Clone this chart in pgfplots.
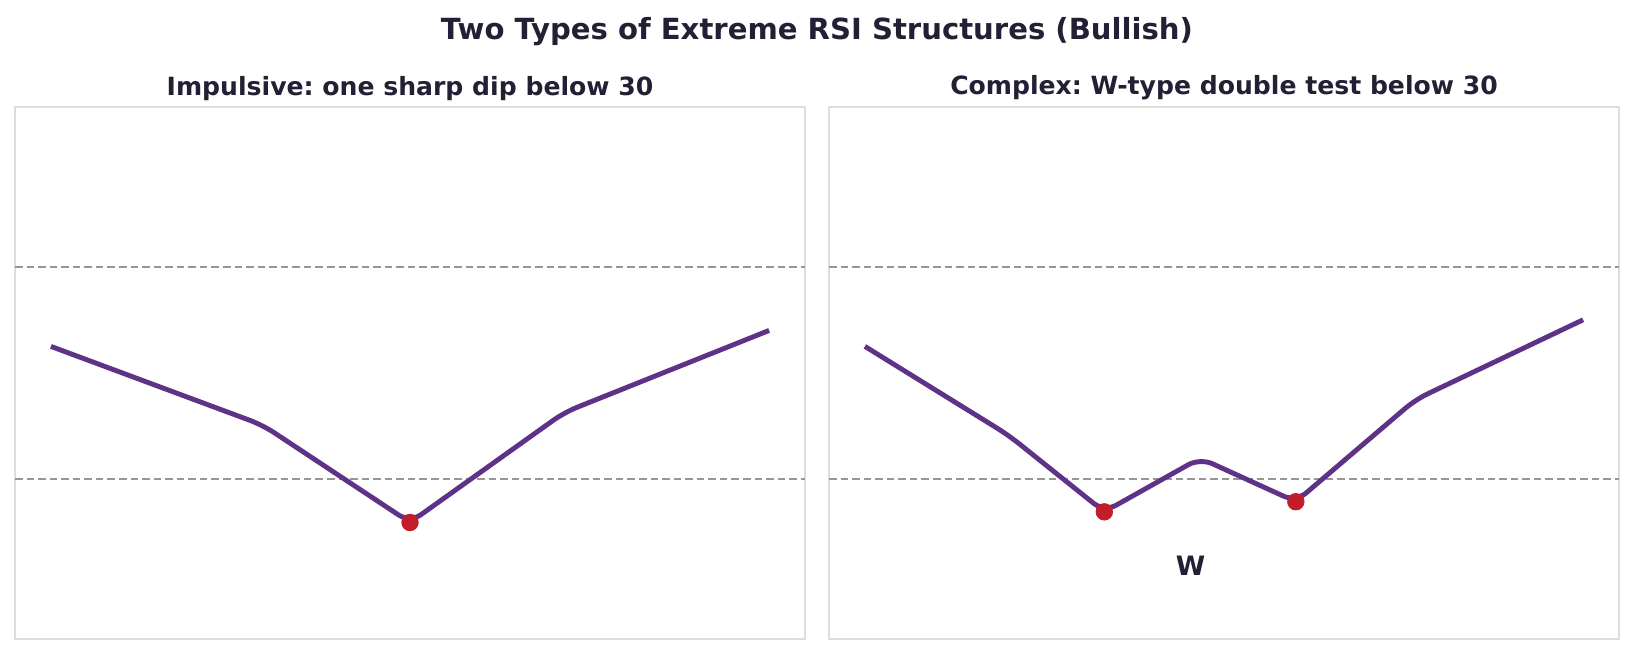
\documentclass[border=0pt]{standalone}
\usepackage{pgfplots}
\pgfplotsset{compat=1.18}
\usepackage{fontspec}
\setmainfont{DejaVu Sans}
\frenchspacing
\definecolor{linepurple}{RGB}{94,50,135}
\definecolor{dotred}{RGB}{193,30,42}
\definecolor{txt}{RGB}{34,32,52}
\definecolor{refgray}{RGB}{150,150,150}
\definecolor{framegray}{RGB}{221,221,221}
\pgfplotsset{
  panel/.style={
    scale only axis,
    width=355.5pt, height=239.4pt,
    anchor=south west,
    ymin=0, ymax=100,
    xtick=\empty, ytick=\empty,
    axis line style={framegray, line width=0.75pt},
    clip=false,
    title style={at={(0.5,1)}, anchor=center, yshift=2.5pt, font=\fontsize{11.3}{13}\selectfont\bfseries, text=txt},
  },
}
\begin{document}
\begin{tikzpicture}
\path[use as bounding box] (0pt,0pt) rectangle (735.3pt,294.3pt);
\node[font=\fontsize{13.1}{15}\selectfont\bfseries, text=txt] at (367.65pt,280.3pt) {Two Types of Extreme RSI Structures (Bullish)};
\begin{axis}[panel, at={(6.75pt,6.75pt)}, xmin=-1, xmax=21,
  title={Impulsive: one sharp dip below 30}]
\addplot[refgray, line width=0.9pt, dash pattern=on 3.4pt off 1.8pt, forget plot] coordinates {(-1,70) (21,70)};
\addplot[refgray, line width=0.9pt, dash pattern=on 3.4pt off 1.8pt, forget plot] coordinates {(-1,30) (21,30)};
\addplot[linepurple, line width=2.2pt, rounded corners=6pt, line join=round] coordinates {
(0,55) (5.9,40.2) (10,21.9) (14.3,42.6) (20,58)};
\addplot[only marks, mark=*, mark size=3.7pt, dotred, mark options={draw=dotred, fill=dotred}] coordinates {(10,21.9)};
\end{axis}
\begin{axis}[panel, at={(373.05pt,6.75pt)}, xmin=-1.5, xmax=31.5,
  title={Complex: W-type double test below 30}]
\addplot[refgray, line width=0.9pt, dash pattern=on 3.4pt off 1.8pt, forget plot] coordinates {(-1.5,70) (31.5,70)};
\addplot[refgray, line width=0.9pt, dash pattern=on 3.4pt off 1.8pt, forget plot] coordinates {(-1.5,30) (31.5,30)};
\addplot[linepurple, line width=2.2pt, rounded corners=6pt, line join=round] coordinates {
(0,55) (6,38.3) (10,23.9) (14,34) (18,25.8) (23,45) (30,60)};
\addplot[only marks, mark=*, mark size=3.7pt, dotred, mark options={draw=dotred, fill=dotred}] coordinates {(10,23.9) (18,25.8)};
\node[font=\fontsize{12}{14}\selectfont\bfseries, text=txt] at (axis cs:13.6,13.8) {W};
\end{axis}
\end{tikzpicture}
\end{document}
